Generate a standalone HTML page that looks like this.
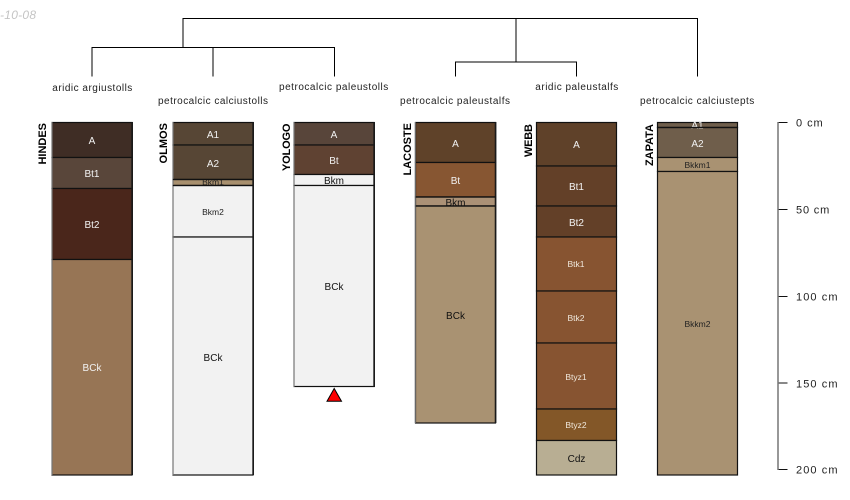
<!DOCTYPE html>
<html><head><meta charset="utf-8"><style>
html,body{margin:0;padding:0;background:#fff;width:850px;height:500px;overflow:hidden}
svg{display:block}
text{font-family:"Liberation Sans",sans-serif}
</style></head><body>
<svg width="850" height="500" viewBox="0 0 850 500" xmlns="http://www.w3.org/2000/svg">
<text x="0" y="19" font-size="12" font-style="italic" fill="#c4c4c4" textLength="36">-10-08</text>

<g fill="none" stroke="#000" stroke-width="1">
<path d="M183 47V18.5H516V62M516 18.5H697.5V76.5"/>
<path d="M92 76.5V47.5H334.5V76.5M213 47.5V76.5"/>
<path d="M455.5 76.5V62H576.5V76.5"/>
</g>

<g font-size="10" fill="#222">
<text x="52.3" y="91" textLength="80">aridic argiustolls</text>
<text x="158" y="104" textLength="110">petrocalcic calciustolls</text>
<text x="279" y="90" textLength="109.3">petrocalcic paleustolls</text>
<text x="400" y="104" textLength="110">petrocalcic paleustalfs</text>
<text x="535.3" y="90" textLength="83">aridic paleustalfs</text>
<text x="640" y="104" textLength="114.3">petrocalcic calciustepts</text>
</g>

<g stroke="#111" stroke-width="1.2">
<!-- HINDES -->
<rect x="52" y="122.5" width="80" height="35" fill="#3f2d25"/>
<rect x="52" y="157.5" width="80" height="31" fill="#59463a"/>
<rect x="52" y="188.5" width="80" height="71" fill="#4a261b"/>
<rect x="52" y="259.5" width="80" height="215.5" fill="#977555"/>
<!-- OLMOS -->
<rect x="173" y="122.5" width="80" height="22.5" fill="#574635"/>
<rect x="173" y="145" width="80" height="34.5" fill="#574635"/>
<rect x="173" y="179.5" width="80" height="6" fill="#a8906f"/>
<rect x="173" y="185.5" width="80" height="51.5" fill="#f2f2f2"/>
<rect x="173" y="237" width="80" height="238" fill="#f2f2f2"/>
<!-- YOLOGO -->
<rect x="294" y="122.5" width="80" height="22.5" fill="#58453a"/>
<rect x="294" y="145" width="80" height="29.5" fill="#5f4232"/>
<rect x="294" y="174.5" width="80" height="11" fill="#f2f2f2"/>
<rect x="294" y="185.5" width="80" height="201" fill="#f2f2f2"/>
<!-- LACOSTE -->
<rect x="415.5" y="122.5" width="80" height="40" fill="#5f4229"/>
<rect x="415.5" y="162.5" width="80" height="34.5" fill="#875632"/>
<rect x="415.5" y="197" width="80" height="9" fill="#ab9176"/>
<rect x="415.5" y="206" width="80" height="217" fill="#a99272"/>
<!-- WEBB -->
<rect x="536.5" y="122.5" width="80" height="43.5" fill="#5f4129"/>
<rect x="536.5" y="166" width="80" height="40" fill="#634028"/>
<rect x="536.5" y="206" width="80" height="31" fill="#634028"/>
<rect x="536.5" y="237" width="80" height="54" fill="#875431"/>
<rect x="536.5" y="291" width="80" height="52" fill="#875431"/>
<rect x="536.5" y="343" width="80" height="66" fill="#875431"/>
<rect x="536.5" y="409" width="80" height="31.5" fill="#835728"/>
<rect x="536.5" y="440.5" width="80" height="34.5" fill="#b8ae93"/>
<!-- ZAPATA -->
<rect x="657.5" y="122.5" width="80" height="5" fill="#6f5e4b"/>
<rect x="657.5" y="127.5" width="80" height="30" fill="#6f5e4b"/>
<rect x="657.5" y="157.5" width="80" height="14" fill="#a99272"/>
<rect x="657.5" y="171.5" width="80" height="303.5" fill="#a99272"/>
</g>

<!-- edge treatment: light left edge, heavier right edge -->
<g fill="none" stroke="#8a8a8a" stroke-width="1">
<path d="M52 122V475M173 122V475M294 122V387M415.2 122V423"/>
</g>
<g fill="none" stroke="#1a1a1a" stroke-width="1.6">
<path d="M132.2 122V475M253.2 122V475M374.2 122V387M495.6 122V423"/>
</g>

<path d="M334.2 388.5L341.5 401.2H327Z" fill="#f00" stroke="#000" stroke-width="1"/>

<g font-size="11" font-weight="bold" fill="#000">
<text transform="translate(46,164.5) rotate(-90)" textLength="41.5">HINDES</text>
<text transform="translate(167,163.5) rotate(-90)" textLength="40.5">OLMOS</text>
<text transform="translate(290,171) rotate(-90)" textLength="47.5">YOLOGO</text>
<text transform="translate(411,175.5) rotate(-90)" textLength="52.5">LACOSTE</text>
<text transform="translate(532,157) rotate(-90)" textLength="33">WEBB</text>
<text transform="translate(653,166) rotate(-90)" textLength="42">ZAPATA</text>
</g>

<g font-size="10" text-anchor="middle" fill="#f2f2f2">
<text x="92" y="144">A</text>
<text x="92" y="177">Bt1</text>
<text x="92" y="228">Bt2</text>
<text x="92" y="371">BCk</text>
<text x="213" y="138">A1</text>
<text x="213" y="167">A2</text>
<text x="334" y="138">A</text>
<text x="334" y="164">Bt</text>
<text x="455.5" y="147">A</text>
<text x="455.5" y="184">Bt</text>
<text x="576.5" y="148">A</text>
<text x="576.5" y="190">Bt1</text>
<text x="576.5" y="226">Bt2</text>
<text x="697.5" y="128.5">A1</text>
<text x="697.5" y="147">A2</text>
</g>
<g font-size="8.5" text-anchor="middle" fill="#f0e8dc">
<text x="576" y="267">Btk1</text>
<text x="576" y="321">Btk2</text>
<text x="576" y="380">Btyz1</text>
<text x="576" y="428">Btyz2</text>
</g>
<g font-size="10" text-anchor="middle" fill="#111">
<text x="213" y="361">BCk</text>
<text x="334" y="184">Bkm</text>
<text x="334" y="290">BCk</text>
<text x="455.5" y="206">Bkm</text>
<text x="455.5" y="319">BCk</text>
<text x="576.5" y="462">Cdz</text>
</g>
<g font-size="8.5" text-anchor="middle" fill="#222">
<text x="213" y="185">Bkm1</text>
<text x="213" y="215">Bkm2</text>
<text x="697.5" y="168">Bkkm1</text>
<text x="697.5" y="327">Bkkm2</text>
</g>
<!-- boundaries that cross over labels -->
<g fill="none" stroke="#111" stroke-width="1.2">
<path d="M657.5 127.5H737.5M173 185.5H253M173 179.5H253M415.5 206H495.5M415.5 197H495.5"/>
</g>

<g fill="none" stroke="#111" stroke-width="1">
<path d="M778 122.5H787.5M778 209.5H787.5M778 296.5H787.5M778 383H787.5M778 469.5H787.5"/>
</g>
<path d="M778 122V470" stroke="#777" stroke-width="1.5" fill="none"/>
<g font-size="11" fill="#222">
<text x="796" y="126.5" textLength="26.7">0 cm</text>
<text x="796" y="213.5" textLength="33.3">50 cm</text>
<text x="796" y="300.5" textLength="41.5">100 cm</text>
<text x="796" y="387.5" textLength="41.5">150 cm</text>
<text x="796" y="473.5" textLength="41.5">200 cm</text>
</g>
</svg>
</body></html>
